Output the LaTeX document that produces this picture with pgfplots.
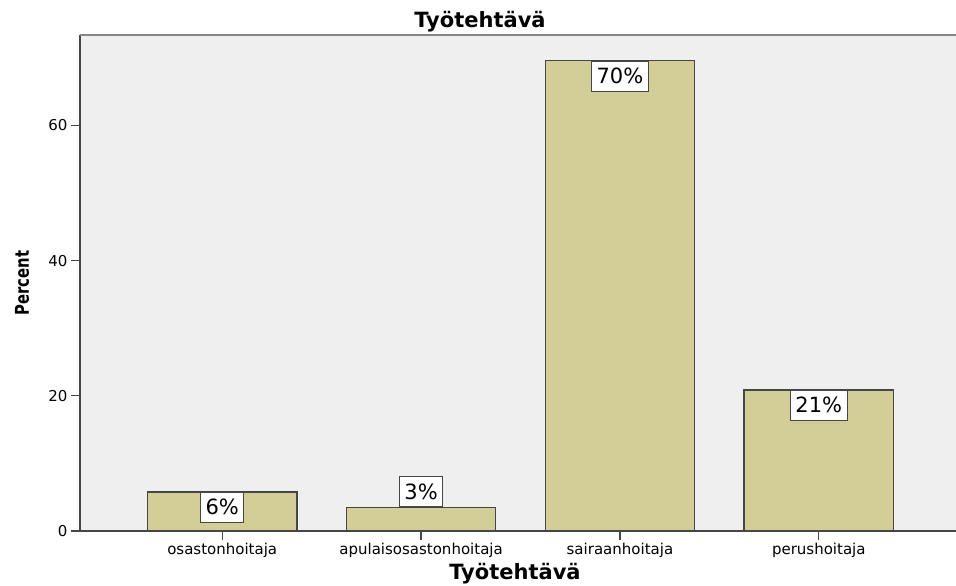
\documentclass[border=0pt]{standalone}
\usepackage{pgfplots}
\pgfplotsset{compat=1.18}
\usepackage{fontspec}
\setmainfont{DejaVu Sans}
\definecolor{bg}{RGB}{239,239,239}
\definecolor{barfill}{RGB}{211,206,152}
\definecolor{edge}{RGB}{70,70,70}
\definecolor{topline}{RGB}{135,135,135}

\begin{document}
\begin{tikzpicture}[x=1bp,y=1bp]
\useasboundingbox (-80,-55) rectangle (876,531);
\begin{axis}[
  at={(0,0)}, anchor=south west,
  scale only axis, width=876bp, height=496bp,
  xmin=-0.715, xmax=3.69, ymin=0, ymax=73.4,
  axis background/.style={fill=bg},
  axis x line*=bottom, axis y line*=left,
  axis line style={edge, line width=1.5bp},
  xtick={0,1,2,3},
  xticklabels={osastonhoitaja,apulaisosastonhoitaja,sairaanhoitaja,perushoitaja},
  ytick={0,20,40,60},
  tick align=outside, major tick length=9bp,
  tick style={edge, line width=1.3bp},
  ticklabel style={font=\fontsize{15bp}{17bp}\selectfont},
  /pgf/number format/assume math mode=true,
  title={Työtehtävä},
  title style={font=\fontsize{21bp}{24bp}\selectfont\bfseries, at={(0.4566,1)}, anchor=base, yshift=2bp},
  xlabel={Työtehtävä},
  xlabel style={font=\fontsize{21bp}{24bp}\selectfont\bfseries, at={(0.4966,0)}, anchor=base, yshift=-49bp},
  ylabel={\scalebox{0.78}[1]{Percent}},
  ylabel style={font=\fontsize{19bp}{22bp}\selectfont\bfseries, at={(-0.0662,0.5)}, anchor=center},
  clip=false,
]
\addplot[ybar, bar width=0.75, fill=barfill, draw=edge, line width=1.5bp]
  coordinates {(0,5.8) (1,3.5) (2,69.6) (3,20.9)};
\draw[topline, line width=1.5bp] (rel axis cs:0,1) -- (rel axis cs:1,1);
\addplot[only marks, mark=none, point meta=explicit symbolic,
  nodes near coords={\pgfplotspointmeta\%},
  every node near coord/.style={anchor=north, fill=white, draw=edge, line width=1.2bp,
    font=\fontsize{21bp}{24bp}\selectfont, inner xsep=5bp, inner ysep=7bp,
    text height=15.5bp, text depth=0.5bp}]
  table[meta=l] {
x y l
0 5.8 6
2 69.6 70
3 20.9 21
};
\addplot[only marks, mark=none, point meta=explicit symbolic,
  nodes near coords={\pgfplotspointmeta\%},
  every node near coord/.style={anchor=south, fill=white, draw=edge, line width=1.2bp,
    font=\fontsize{21bp}{24bp}\selectfont, inner xsep=5bp, inner ysep=7bp,
    text height=15.5bp, text depth=0.5bp}]
  table[meta=l] {
x y l
1 3.5 3
};
\end{axis}
\end{tikzpicture}
\end{document}
